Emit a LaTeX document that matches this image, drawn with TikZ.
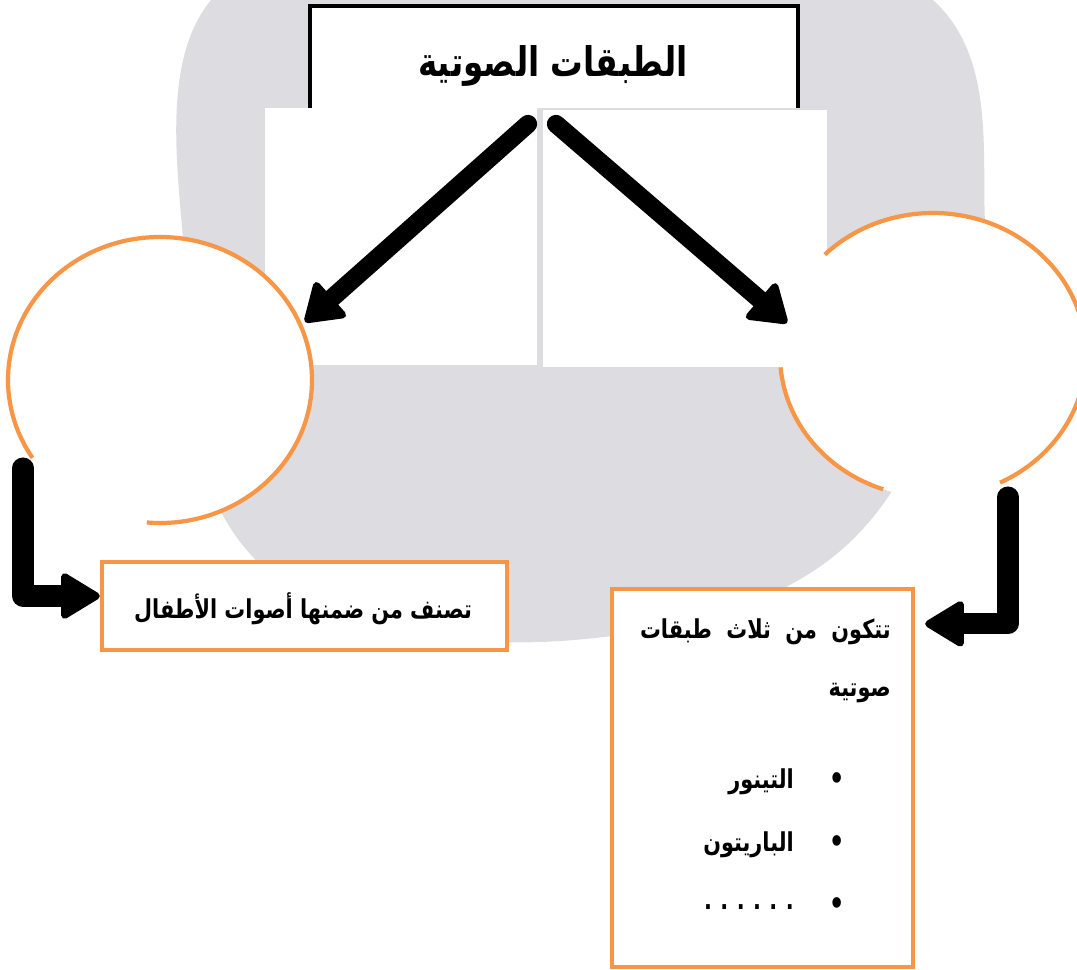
\documentclass[tikz,border=0pt]{standalone}
\usepackage{fontspec}
\usetikzlibrary{arrows.meta, positioning}
\newfontfamily\arabicfont[Script=Arabic, FakeStretch=0.8]{DejaVu Sans}
\TeXXeTstate=1
\definecolor{boxorange}{RGB}{247,150,70}
\definecolor{photogrey}{RGB}{221,221,225}
\tikzset{
    arLabel/.style={font=\arabicfont\bfseries\fontsize{18.5}{22}\selectfont, inner sep=0pt},
    bulletLabel/.style={font=\arabicfont\fontsize{26}{28}\selectfont, inner sep=0pt},
    titleLabel/.style={font=\arabicfont\bfseries\fontsize{29}{34}\selectfont, inner sep=0pt},
    orangeBox/.style={draw=boxorange, line width=3pt, fill=white, inner sep=0pt},
    ring/.style={draw=boxorange, line width=3pt},
    bigArrow/.style={line width=13pt, line cap=round, -{Triangle[length=28pt, width=36pt, line width=5pt, round]}},
    elbowArrow/.style={line width=15pt, line cap=round, line join=round, -{Triangle[length=30pt, width=35pt, line width=5pt, round]}},
}
\newcommand{\arTxt}[1]{\beginR #1\endR}

\begin{document}
\begin{tikzpicture}[x=0.025cm, y=-0.025cm]
    \useasboundingbox (0,0) rectangle (1077,969);

    % faded photo behind the chart
    \fill[photogrey] plot[smooth cycle, tension=0.6] coordinates {(250,-30) (880,-30) (985,222) (905,470) (770,595) (540,642) (330,610) (215,500) (185,300)};
    \fill[white] (265,108) rectangle (537,365);
    \fill[white] (543,110) rectangle (827,367);

    % title
    \draw[line width=3pt, fill=white] (310,108) |- (798,6) -- (798,108);
    \node[titleLabel] (title) at (553,66) {\arTxt{الطبقات الصوتية}};

    % the two circles
    \coordinate (lc) at (160,380);
    \coordinate (rc) at (933,355);
    \fill[white] (lc) ellipse[x radius=152, y radius=143];
    \fill[white] (rc) ellipse[x radius=153, y radius=142];
    \draw[ring] (lc) ++(95:152 and 143) arc[start angle=95, end angle=-213, x radius=152, y radius=143];
    \draw[ring] (rc) ++(-135:153 and 142) arc[start angle=-135, end angle=64, x radius=153, y radius=142];
    \draw[ring] (rc) ++(175:153 and 142) arc[start angle=175, end angle=109, x radius=153, y radius=142];

    % arrows from the title
    \coordinate (lfrom) at (528,124);
    \coordinate (rfrom) at (556,124);
    \coordinate (lto) at (305,322);
    \coordinate (rto) at (787,323);
    \draw[bigArrow] (lfrom) -- (lto);
    \draw[bigArrow] (rfrom) -- (rto);

    % boxes
    \node[orangeBox, minimum width=10.125cm, minimum height=2.2cm] (kids) at (304.5,606) {};
    \node[arLabel] (kidsText) at (303,609) {\arTxt{تصنف من ضمنها أصوات الأطفال}};
    \node[orangeBox, minimum width=7.525cm, minimum height=9.45cm] (info) at (762.5,778) {};
    \node[arLabel, anchor=east] (line1) at (891,632) {\arTxt{تتكون\ \ من\ \ ثلاث\ \ طبقات}};
    \node[arLabel, anchor=east] (line2) at (891,693) {\arTxt{صوتية}};
    \foreach \y/\t/\n in {782/{التينور}/tenor, 845/{الباريتون}/baritone, 907/{.\kern6pt.\kern6pt.\kern6pt.\kern6pt.\kern6pt.}/more} {
        \node[bulletLabel] (dot\n) at (837,\y) {•};
        \node[arLabel, anchor=east] (\n) at (794,\y) {\arTxt{\t}};
    }

    % elbow arrows
    \coordinate (lknob) at (23,468);
    \coordinate (rknob) at (1008,497);
    \draw[elbowArrow] (lknob) |- ([yshift=0.25cm]kids.west);
    \draw[elbowArrow] (rknob) |- ([xshift=0.25cm, yshift=-0.925cm]info.north east);

\end{tikzpicture}
\end{document}
